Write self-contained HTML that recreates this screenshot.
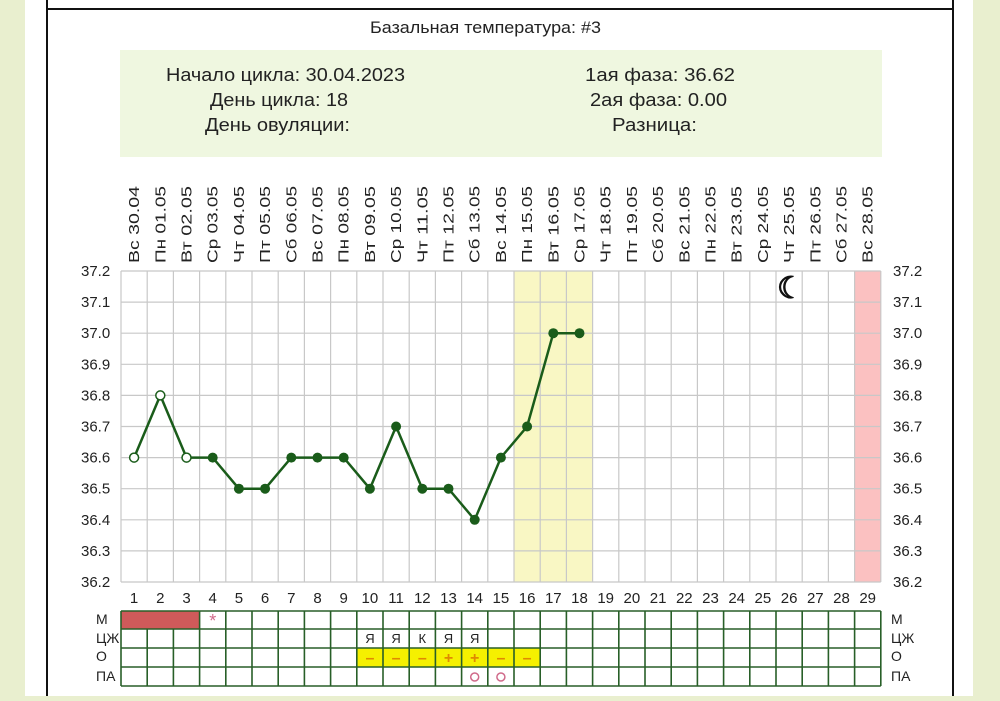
<!DOCTYPE html>
<html><head><meta charset="utf-8"><style>
html,body{margin:0;padding:0;}
body{width:1000px;height:696px;background:#e9efcf;overflow:hidden;font-family:"Liberation Sans",sans-serif;}
</style></head><body>
<svg width="1000" height="696" xmlns="http://www.w3.org/2000/svg" font-family="Liberation Sans, sans-serif">
<rect x="25" y="0" width="948" height="696" fill="#fff"/>
<line x1="47" y1="0" x2="47" y2="696" stroke="#111" stroke-width="2"/>
<line x1="953" y1="0" x2="953" y2="696" stroke="#111" stroke-width="2"/>
<line x1="47" y1="9" x2="953" y2="9" stroke="#111" stroke-width="2"/>
<text x="370" y="33" font-size="17" textLength="231" lengthAdjust="spacingAndGlyphs" fill="#222">Базальная температура: #3</text>
<rect x="120" y="50" width="762" height="107" fill="#eff7e0"/>
<g font-size="18" fill="#222" lengthAdjust="spacingAndGlyphs">
<text x="166" y="81" textLength="239" lengthAdjust="spacingAndGlyphs">Начало цикла: 30.04.2023</text>
<text x="210" y="106" textLength="138" lengthAdjust="spacingAndGlyphs">День цикла: 18</text>
<text x="205" y="131" textLength="145" lengthAdjust="spacingAndGlyphs">День овуляции:</text>
<text x="585" y="81" textLength="150" lengthAdjust="spacingAndGlyphs">1ая фаза: 36.62</text>
<text x="590" y="106" textLength="137" lengthAdjust="spacingAndGlyphs">2ая фаза: 0.00</text>
<text x="612" y="131" textLength="85" lengthAdjust="spacingAndGlyphs">Разница:</text>
</g>
<rect x="514" y="271" width="78.6" height="311" fill="#f9f7c4"/>
<rect x="855" y="271" width="26" height="311" fill="#fbc1c1"/>
<g id="grid" stroke="#c8c8c8" stroke-width="1.2"></g>
<g id="labels"></g>
<g id="table"></g>
<text x="777" y="298" font-size="30" fill="#111" stroke="#111" stroke-width="1.2" font-family="DejaVu Sans">☾</text>
<polyline id="ln" fill="none" stroke="#1a5c1a" stroke-width="2.5"/>
<g id="pts"></g>
</svg>
<script>
const NS="http://www.w3.org/2000/svg";
function el(t,a,p,txt){const e=document.createElementNS(NS,t);for(const k in a)e.setAttribute(k,a[k]);if(txt!==undefined)e.textContent=txt;document.getElementById(p)?document.getElementById(p).appendChild(e):document.querySelector('svg').appendChild(e);return e;}
const L=121,W=26.2,T=271,S=31.1;
for(let k=0;k<=29;k++)el('line',{x1:L+W*k,y1:T,x2:L+W*k,y2:T+10*S},'grid');
for(let j=0;j<=10;j++)el('line',{x1:L,y1:T+S*j,x2:L+29*W,y2:T+S*j},'grid');
const days=["Вс","Пн","Вт","Ср","Чт","Пт","Сб"];
for(let i=0;i<29;i++){
 const cx=L+W*(i+0.5);
 el('text',{x:cx,y:603,'font-size':15,'text-anchor':'middle',fill:'#222'},'labels',String(i+1));
 const d=new Date(2023,3,30+i);
 const s=days[d.getDay()]+" "+String(d.getDate()).padStart(2,'0')+"."+String(d.getMonth()+1).padStart(2,'0');
 el('text',{x:0,y:0,'font-size':15,fill:'#222',textLength:77,lengthAdjust:'spacingAndGlyphs',transform:`translate(${cx+5},263) rotate(-90)`},'labels',s);
}
for(let j=0;j<=10;j++){const v=(37.2-j*0.1).toFixed(1);
 el('text',{x:81,y:T+S*j+5,'font-size':15,fill:'#222'},'labels',v);
 el('text',{x:893,y:T+S*j+5,'font-size':15,fill:'#222'},'labels',v);}
const rows=[611,629,648,667,686];
el('rect',{x:L,y:611,width:W*3,height:18,fill:'#cf5a5a'},'table');
for(let i=9;i<16;i++)el('rect',{x:L+W*i,y:648,width:W,height:19,fill:'#f5f000'},'table');
rows.forEach(y=>el('line',{x1:L,y1:y,x2:L+29*W,y2:y,stroke:'#285f28','stroke-width':1.6},'table'));
for(let k=0;k<=29;k++){el('line',{x1:L+W*k,y1:(k>0&&k<3)?629:611,x2:L+W*k,y2:686,stroke:'#285f28','stroke-width':1.6},'table');}
[["М",624],["ЦЖ",643],["О",661],["ПА",681]].forEach(([t,y])=>{el('text',{x:96,y:y,'font-size':14,fill:'#222'},'labels',t);el('text',{x:891,y:y,'font-size':14,fill:'#222'},'labels',t);});
const c=i=>L+W*(i-0.5);
el('text',{x:c(4),y:627,'font-size':18,'text-anchor':'middle',fill:'#d06a8a'},'table','*');
["Я","Я","К","Я","Я"].forEach((t,k)=>el('text',{x:c(10+k),y:643,'font-size':13,'text-anchor':'middle',fill:'#222'},'table',t));
["–","–","–","+","+","–","–"].forEach((t,k)=>el('text',{x:c(10+k),y:663,'font-size':16,'text-anchor':'middle',fill:'#e08a00','font-weight':'bold'},'table',t));
[14,15].forEach(i=>el('circle',{cx:c(i),cy:677,r:4,fill:'none',stroke:'#d06a8a','stroke-width':1.5},'table'));
const v=[36.6,36.8,36.6,36.6,36.5,36.5,36.6,36.6,36.6,36.5,36.7,36.5,36.5,36.4,36.6,36.7,37.0,37.0];
const pts=v.map((t,i)=>[c(i+1),T+(37.2-t)*10*S]);
document.getElementById('ln').setAttribute('points',pts.map(p=>p.join(',')).join(' '));
pts.forEach((p,i)=>{if(i<3)el('circle',{cx:p[0],cy:p[1],r:4.5,fill:'#fff',stroke:'#1a5c1a','stroke-width':1.5},'pts');else el('circle',{cx:p[0],cy:p[1],r:5,fill:'#1a5c1a'},'pts');});
</script>
</body></html>
